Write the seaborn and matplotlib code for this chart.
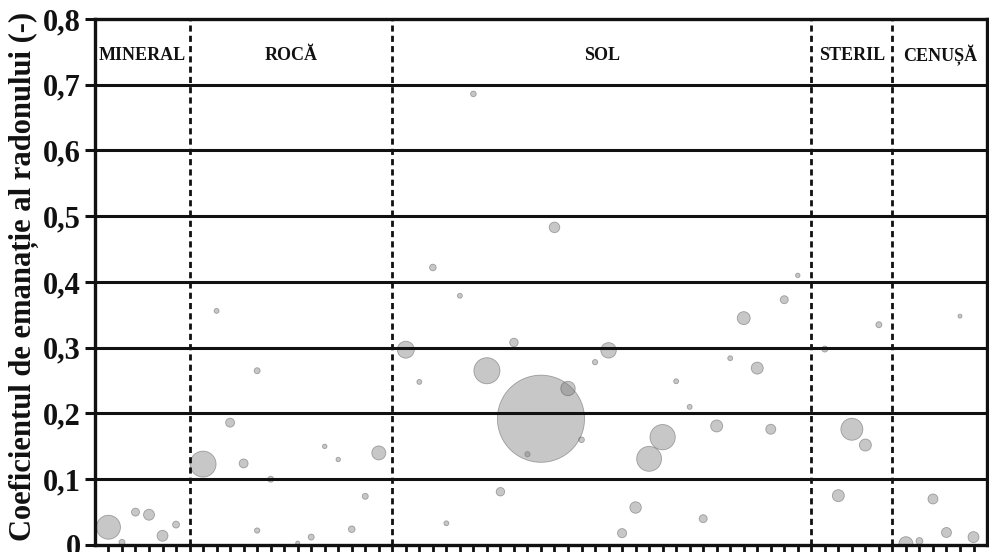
import matplotlib
matplotlib.use("Agg")
import matplotlib.pyplot as plt
import numpy as np
import pandas as pd
import seaborn as sns

# Material categories and their boundaries along the sample axis
categorii = ["MINERAL", "ROCĂ", "SOL", "STERIL", "CENUȘĂ"]
limite = [0, 7, 22, 53, 59, 66]

# Sample index (position along the x axis)
proba = [1, 2, 3, 4, 5, 6,
         8, 9, 10, 11, 12, 12, 13, 15, 16, 17, 18, 19, 20, 21,
         23, 24, 25, 26, 27, 28, 29, 30, 31, 32, 33, 34, 35, 36, 37,
         38, 39, 40, 41, 42, 43, 44, 45, 46, 47, 48, 49, 50, 51, 52,
         54, 55, 56, 57, 58,
         60, 61, 62, 63, 64, 65]

# Radon emanation coefficient (-)
coef = [0.027, 0.004, 0.050, 0.046, 0.014, 0.031,
        0.123, 0.356, 0.186, 0.124, 0.265, 0.022, 0.100, 0.003, 0.012,
        0.150, 0.130, 0.024, 0.074, 0.140,
        0.297, 0.248, 0.422, 0.033, 0.379, 0.686, 0.265, 0.081, 0.308,
        0.138, 0.192, 0.483, 0.238, 0.160, 0.278, 0.296, 0.018, 0.057,
        0.131, 0.164, 0.249, 0.210, 0.040, 0.181, 0.284, 0.345, 0.269,
        0.176, 0.373, 0.410,
        0.298, 0.075, 0.176, 0.152, 0.335,
        0.002, 0.006, 0.070, 0.019, 0.348, 0.012]

# Relative weight of each sample (bubble area)
pondere = [144, 9, 16, 30, 30, 12,
           169, 6, 20, 20, 9, 7, 9, 4, 9, 5, 5, 11, 9, 49,
           72, 6, 11, 6, 6, 8, 170, 18, 18, 7, 1900, 28, 52, 8, 7,
           60, 21, 33, 155, 160, 6, 6, 16, 36, 6, 42, 36, 25, 16, 5,
           9, 36, 121, 36, 9,
           49, 12, 25, 25, 4, 30]

df = pd.DataFrame({"proba": proba, "coef": coef, "pondere": pondere})

sns.set_theme(style="white")
plt.rcParams["font.family"] = ["Liberation Serif", "DejaVu Serif"]
plt.rcParams["font.weight"] = "bold"

fig = plt.figure(figsize=(9.89, 5.52), dpi=100)
ax = fig.add_axes([0.096, 0.0127, 0.902, 0.953])

dark = "#111111"

# px -> pt^2 factor for marker area (radius in px, dpi 100)
k_area = (2 * 0.72) ** 2
sns.scatterplot(data=df, x="proba", y="coef", size="pondere",
                size_norm=(0, 2000), sizes=(0, 2000 * k_area),
                color="#7b7b7b", alpha=0.42, edgecolor="#404040",
                linewidth=0.6, legend=False, ax=ax, zorder=1)

ax.set_xlim(limite[0], limite[-1])
ax.set_ylim(0, 0.8)

# horizontal grid
yt = np.round(np.arange(0, 0.81, 0.1), 1)
ax.set_yticks(yt)
ax.set_yticklabels(["0"] + [f"{v:.1f}".replace(".", ",") for v in yt[1:]])
for v in yt[1:-1]:
    ax.axhline(v, color=dark, lw=2.2, zorder=3)

# category separators
for b in limite[1:-1]:
    ax.axvline(b, color=dark, lw=2.0, ls=(0, (2.2, 1.5)), zorder=3)

# category names
for i, c in enumerate(categorii):
    ax.text((limite[i] + limite[i + 1]) / 2, 0.745, c, ha="center",
            va="center", fontsize=13, fontweight="bold", color=dark,
            zorder=4)

ax.set_xticks(np.arange(1, limite[-1]))
ax.set_xticklabels([])
ax.tick_params(axis="x", direction="out", length=9, width=2.0,
               colors=dark, bottom=True)
ax.tick_params(axis="y", direction="out", length=7, width=2.2,
               colors=dark, labelsize=22, pad=3, left=True)
for t in ax.get_yticklabels():
    t.set_fontweight("bold")

for s in ax.spines.values():
    s.set_color(dark)
    s.set_linewidth(2.4)
    s.set_zorder(5)

ax.set_xlabel("")
ax.set_ylabel("Coeficientul de emanație al radonului (-)", fontsize=22,
              fontweight="bold", color=dark)
ax.yaxis.set_label_coords(-0.063, 0.51)

fig.savefig("out.png", dpi=100)
